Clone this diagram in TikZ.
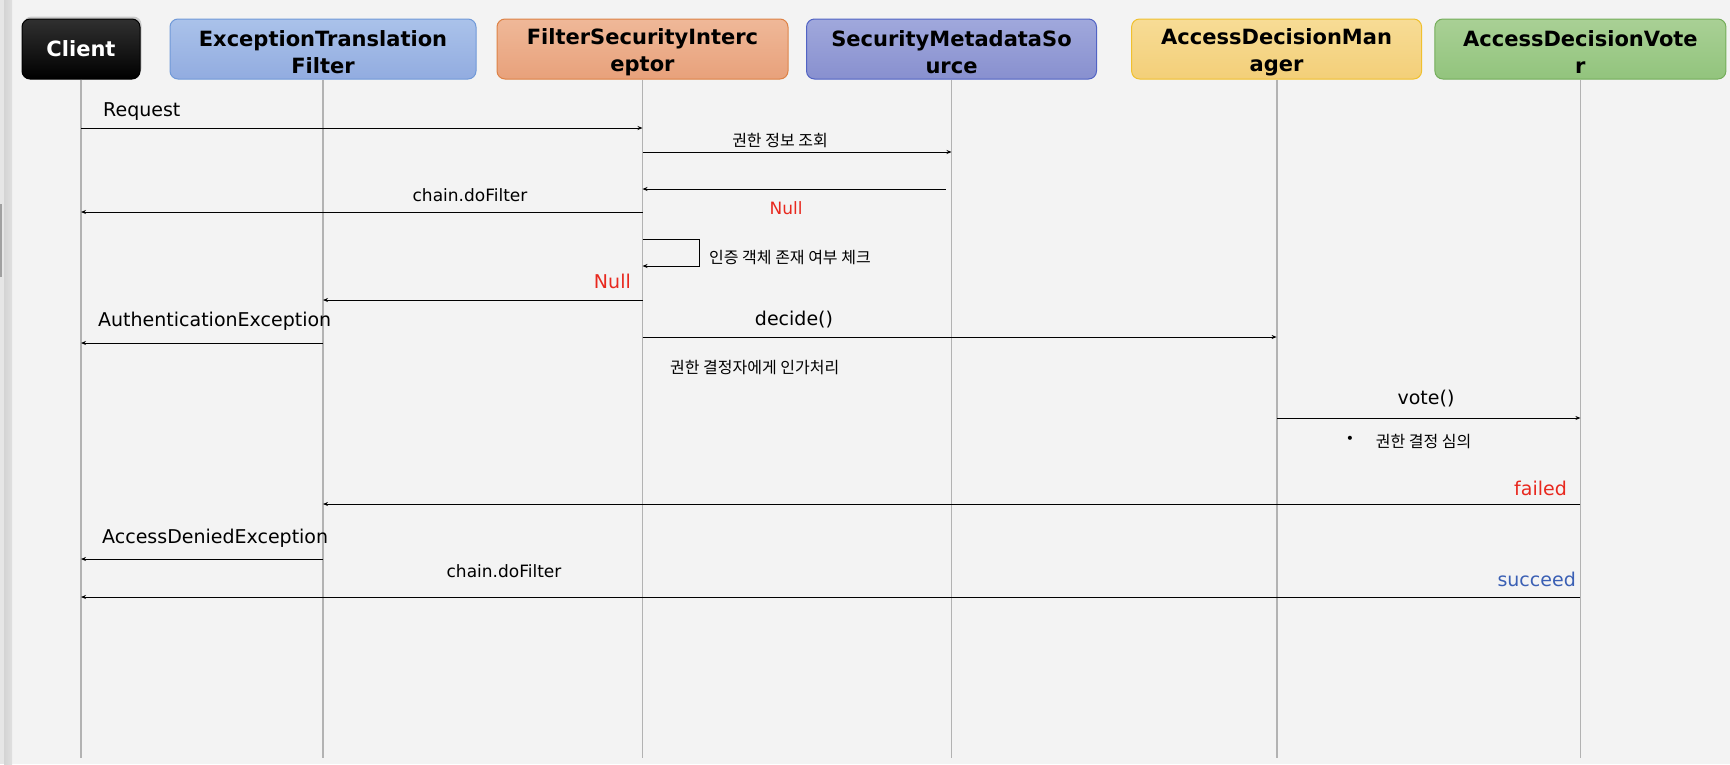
\documentclass[tikz,border=0pt]{standalone}
\usepackage{fontspec}
\setmainfont{DejaVu Sans}
\newfontfamily\kr{Noto Sans CJK KR}
\usetikzlibrary{arrows.meta,shadows,calc}
\definecolor{bg}{RGB}{243,243,243}
\definecolor{edgeA}{RGB}{230,230,230}
\definecolor{edgeB}{RGB}{212,212,212}
\definecolor{edgeC}{RGB}{224,224,224}
\definecolor{edgeD}{RGB}{160,160,160}
\definecolor{lifegray}{RGB}{178,178,178}
\definecolor{etfT}{RGB}{170,194,234}
\definecolor{etfB}{RGB}{146,172,224}
\definecolor{etfD}{RGB}{112,153,216}
\definecolor{fsiT}{RGB}{239,184,152}
\definecolor{fsiB}{RGB}{232,161,123}
\definecolor{fsiD}{RGB}{221,130,70}
\definecolor{smsT}{RGB}{160,168,220}
\definecolor{smsB}{RGB}{136,144,207}
\definecolor{smsD}{RGB}{81,99,196}
\definecolor{admT}{RGB}{247,220,150}
\definecolor{admB}{RGB}{243,207,120}
\definecolor{admD}{RGB}{240,192,46}
\definecolor{advT}{RGB}{169,208,149}
\definecolor{advB}{RGB}{146,196,125}
\definecolor{advD}{RGB}{116,173,90}
\definecolor{nullred}{RGB}{232,40,30}
\definecolor{succblue}{RGB}{58,95,180}
\newcommand{\hstrut}{\rule{0pt}{22pt}}
\tikzset{
  hdr/.style={rounded corners=8pt, minimum height=60pt, inner sep=0pt, align=center,
    font=\fontsize{21}{27}\selectfont\bfseries, line width=1pt},
  life/.style={draw=lifegray, line width=1.8pt},
  msg/.style={draw=black, line width=1pt, -{Stealth[length=5pt,width=4pt]}},
  lab/.style={inner sep=0pt, font=\fontsize{19}{19}\selectfont},
  labs/.style={inner sep=0pt, font=\fontsize{17}{17}\selectfont},
  kor/.style={inner sep=0pt, font=\fontsize{16}{16}\selectfont\kr},
}
\begin{document}
\begin{tikzpicture}[x=1pt,y=-1pt]
\useasboundingbox (0,0) rectangle (1730,764);
\fill[bg] (0,0) rectangle (1730,764);
\fill[edgeA] (0,0) rectangle (4,764);
\shade[left color=edgeB, right color=edgeC] (4,0) rectangle (12,764);
\fill[edgeD] (0,204) rectangle (1.5,277);

% header boxes
\node[hdr, minimum width=118pt, top color={rgb,255:red,48;green,48;blue,48}, bottom color=black, draw=black, text=white,
  drop shadow={opacity=0.35, shadow xshift=1.5pt, shadow yshift=2.5pt}] (client) at (81,49) {Client};
\node[hdr, minimum width=306pt, top color=etfT, bottom color=etfB, draw=etfD] (etf) at (323,49) {\hstrut ExceptionTranslation\\Filter};
\node[hdr, minimum width=291pt, top color=fsiT, bottom color=fsiB, draw=fsiD] (fsi) at (642.5,49) {\hstrut FilterSecurityInterc\\eptor};
\node[hdr, minimum width=290pt, top color=smsT, bottom color=smsB, draw=smsD] (sms) at (951.5,49) {\hstrut SecurityMetadataSo\\urce};
\node[hdr, minimum width=290pt, top color=admT, bottom color=admB, draw=admD] (adm) at (1276.6,49) {\hstrut AccessDecisionMan\\ager};
\node[hdr, minimum width=291pt, top color=advT, bottom color=advB, draw=advD] (adv) at (1580.4,49) {\hstrut AccessDecisionVote\\r};

% lifelines
\foreach \n in {client,etf,fsi,sms,adm,adv}
  \draw[life] (\n.south) -- (\n.south |- 0,758);

% messages
\draw[msg] (client |- 0,128) -- (fsi |- 0,128);
\draw[msg] (fsi |- 0,152) -- (sms |- 0,152);
\coordinate (ret3) at ($(sms |- 0,189)+(-6,0)$);
\draw[msg] (ret3) -- (fsi |- 0,189);
\draw[msg] (fsi |- 0,212) -- (client |- 0,212);
\coordinate (loopR) at (699.5,252);
\draw[msg] (fsi |- 0,239) -| (loopR) |- (fsi |- 0,266);
\draw[msg] (fsi |- 0,300) -- (etf |- 0,300);
\draw[msg] (fsi |- 0,337) -- (adm |- 0,337);
\draw[msg] (etf |- 0,343) -- (client |- 0,343);
\draw[msg] (adm |- 0,418) -- (adv |- 0,418);
\draw[msg] (adv |- 0,504) -- (etf |- 0,504);
\draw[msg] (etf |- 0,559) -- (client |- 0,559);
\draw[msg] (adv |- 0,597) -- (client |- 0,597);

% labels
\node[lab, anchor=base west] (lreq) at (103,116) {Request};
\node[kor, anchor=base] (linfo) at (780,146) {권한 정보 조회};
\node[labs, anchor=base, text=nullred] (lnull1) at (786,214) {Null};
\node[labs, anchor=base] (ldf1) at (470,201) {chain.doFilter};
\node[kor, anchor=base west] (lchk) at (709,263) {인증 객체 존재 여부 체크};
\node[lab, anchor=base east, text=nullred] (lnull2) at (631,288) {Null};
\node[lab, anchor=base west] (lauth) at (98,326) {AuthenticationException};
\node[lab, anchor=base] (ldec) at (794,325) {decide()};
\node[kor, anchor=base west] (lauthz) at (670,373) {권한 결정자에게 인가처리};
\node[lab, anchor=base] (lvote) at (1426,404) {vote()};
\node[inner sep=0pt, font=\fontsize{14}{14}\selectfont] (bul) at (1350,440) {•};
\node[kor, anchor=base west] (ldelib) at (1375.6,447) {권한 결정 심의};
\node[lab, anchor=base east, text=nullred] (lfail) at (1567,495) {failed};
\node[lab, anchor=base east, text=succblue] (lsucc) at (1576,586) {succeed};
\node[lab, anchor=base west] (ldeny) at (102,543) {AccessDeniedException};
\node[labs, anchor=base] (ldf2) at (504,577) {chain.doFilter};
\end{tikzpicture}
\end{document}
